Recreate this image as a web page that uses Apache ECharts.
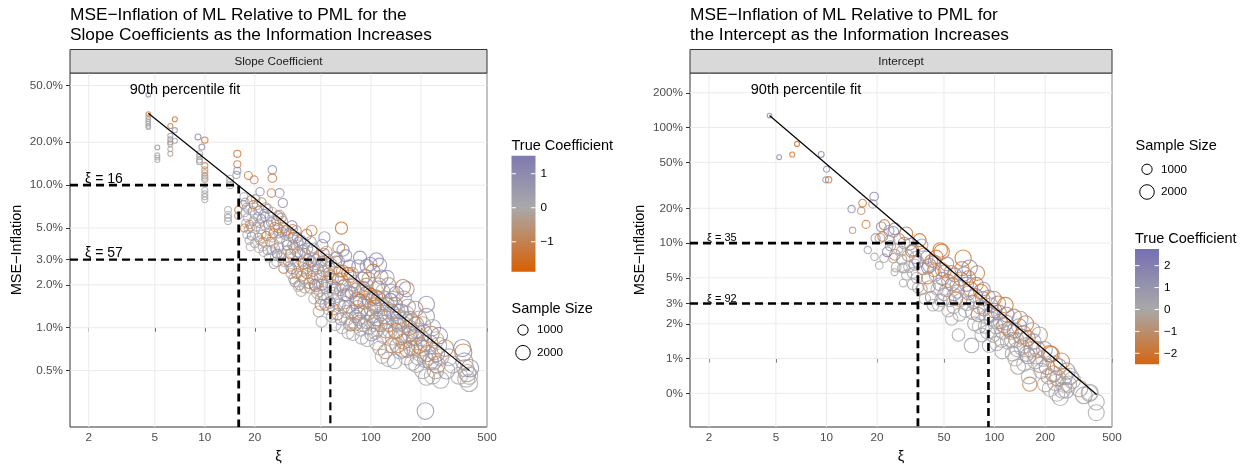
<!DOCTYPE html>
<html><head><meta charset="utf-8">
<script src="https://cdn.jsdelivr.net/npm/echarts@6/dist/echarts.min.js"></script>
<style>html,body{margin:0;padding:0;background:#fff}#c{width:1244px;height:469px}</style>
</head><body><div id="c"></div>
<script>
// ---------- data ----------
const xTicks = [2, 5, 10, 20, 50, 100, 200, 500];
const slopeYTicks = [50, 20, 10, 5, 3, 2, 1, 0.5];
const slopeYLabels = ['50.0%', '20.0%', '10.0%', '5.0%', '3.0%', '2.0%', '1.0%', '0.5%'];
const interYTicks = [200, 100, 50, 20, 10, 5, 3, 2, 1, 0.5];
const interYLabels = ['200%', '100%', '50%', '20%', '10%', '5%', '3%', '2%', '1%', '0%'];
const slopeFit = [[4.57, 31.9], [392.6, 0.5]];
const interFit = [[4.58, 127], [405, 0.489]];
const slopeThresholds = [[16, 10], [57, 3]];
const interThresholds = [[35, 10], [92, 3]];
const slopeColorTicks = [1, 0, -1];
const interColorTicks = [2, 1, 0, -1, -2];
const sizeLegend = [1000, 2000];
// [xi, MSE-inflation %, sample size, true coefficient]
const slopePts = [
[4.57,43,200,1.0],[4.57,31.5,200,-1.2],[4.57,30,200,-0.3],[4.57,29,200,0.1],[4.57,28,200,0.0],[4.57,27,200,0.2],[4.57,26,200,-0.1],[4.57,25.5,200,0.0],
[5.18,18.4,220,0.9],[5.18,16.2,220,0.1],[5.18,15.6,220,0.0],[5.18,15.0,220,-0.1],
[6.2,26,240,-1.0],[6.6,29,240,-1.5],[6.6,24.3,240,0.8],[6.2,22.2,240,0.6],[6.2,21,240,0.7],[6.2,19.4,240,0.2],[6.2,17.9,240,0.0],[6.2,16.6,240,-0.2],[6.6,20.5,240,0.3],[6.2,20,240,-0.5],
[9.1,21.8,330,1.2],[10.0,20.7,380,-1.5],[9.6,18.5,330,1.0],[9.3,16.6,330,0.1],[9.3,15.8,330,0.0],[9.3,15.0,330,-0.1],[9.3,14.6,330,0.2],
[10,13.7,350,-1.0],[10,12.8,350,-0.6],[10,12.2,350,-0.3],[10,11.6,350,-0.9],[10,10.9,350,-0.2],[10,11.2,350,0.0],[10,9.2,350,0.1],[10,8.7,350,0.0],[10,8.3,350,0.2],[10,7.9,350,-0.1],
[15.7,16.6,480,-1.4],[15.7,14.0,480,-1.2],[15.7,12.6,480,0.9],[15.5,11.8,480,0.5],[14.2,11.1,450,0.1],[14.2,10.5,450,0.2],[14.2,10.0,450,0.0],
[13.8,6.7,450,0.2],[13.8,6.2,450,0.0],[13.8,5.9,450,0.4],[13.8,5.6,450,0.1],[15.9,6.7,500,-1.2],[15.9,6.1,500,-0.5],
[18.3,11.7,600,-1.3],[19.8,10.9,600,-1.0],[21.5,9.0,650,1.1],[25.5,12.8,700,1.0],[25.5,11.2,700,-1.1],[25.2,8.8,700,-1.0],[28.2,8.8,750,1.0],[29.5,7.5,800,1.1],[28.2,6.2,750,-1.0],[33.8,4.9,850,-1.2],[36.5,4.0,850,0.9],
[17.2,8.3,600,0.3],[17.5,7.6,600,0.8],[17.8,7.0,620,-0.4],[17.4,6.4,600,0.0],[18.0,5.9,620,0.6],[17.6,5.4,600,0.1],[18.3,4.9,640,-0.2],[17.9,4.5,620,0.0],[18.5,4.1,650,0.2],[18.8,3.7,650,-0.1],[19.0,7.9,650,-0.8],[19.3,6.6,660,1.0],[19.5,5.6,660,0.4],[18.9,5.1,650,-0.6],
[20.2,8.0,700,0.5],[20.5,7.2,700,-0.3],[21.0,6.6,700,0.9],[20.8,6.0,700,0.0],[21.3,5.4,720,-0.5],[21.7,4.9,720,0.2],[22.0,4.5,720,0.0],[21.5,4.1,720,0.3],[22.3,3.7,740,-0.2],[22.6,3.4,740,0.1],[20.0,3.9,700,0.0],[22.8,6.3,740,1.2],[23.0,5.2,740,-1.1],[23.3,7.0,760,0.6],
[24.0,6.8,760,-0.7],[24.5,6.0,780,0.3],[25.0,5.5,780,0.8],[24.7,4.8,780,0.0],[25.5,4.3,800,-0.3],[26.0,3.9,800,0.1],[25.2,3.5,800,0.0],[26.5,3.2,820,0.2],[27.0,2.9,820,-0.1],[26.3,5.1,800,-1.2],[27.5,6.1,840,1.1],[27.8,4.6,840,0.5],[28.0,3.7,840,-0.6],[24.3,3.1,780,0.0],
[29.5,5.6,860,0.4],[30.0,5.0,860,-0.9],[30.5,4.5,880,0.2],[31.0,4.0,880,0.0],[31.5,3.5,900,0.6],[32.0,3.1,900,-0.2],[32.5,2.7,920,0.1],[33.0,2.4,920,0.0],[30.2,2.9,880,0.3],[33.5,5.2,940,1.2],[34.0,4.3,940,-1.3],[33.8,3.8,940,0.7],[29.0,3.3,860,0.0],[34.3,2.2,950,-0.4],
[35.5,4.8,960,-0.5],[36.0,4.3,960,1.0],[37.0,3.8,980,0.0],[37.5,3.3,980,-1.1],[38.5,2.9,1000,0.2],[39.0,2.5,1000,0.0],[39.5,2.2,1020,0.4],[40.0,1.9,1020,-0.2],[36.5,1.95,980,0.1],[38.0,1.8,1000,0.0],[41.0,4.5,1040,-1.4],[41.5,3.6,1040,0.8],[42.0,3.0,1060,-0.7],[40.5,2.6,1040,0.3],[42.5,2.05,1060,1.0],
[43.5,4.0,1080,0.6],[44.0,3.5,1080,-0.8],[45.0,3.1,1100,0.1],[46.0,2.7,1100,0.0],[47.0,2.35,1120,-0.3],[48.0,2.05,1140,0.2],[49.0,1.8,1140,0.0],[50.0,1.6,1160,0.5],[45.5,1.6,1100,0.0],[48.5,1.3,1140,-0.2],[51.0,3.8,1180,1.2],[52.0,3.3,1180,-1.3],[50.5,2.9,1160,0.9],[51.5,2.5,1180,-0.6],[46.5,1.95,1120,1.1],[44.5,2.2,1100,-1.0],[50.5,1.1,1160,0.0],[44.0,4.8,1080,-1.1],[52.5,4.3,1180,1.0],
[54.0,3.4,1200,-0.4],[55.0,3.0,1220,0.7],[56.0,2.65,1220,0.0],[57.0,2.3,1240,-1.0],[58.0,2.0,1260,0.3],[59.0,1.75,1260,0.0],[60.0,1.55,1280,-0.2],[55.5,1.35,1220,0.1],[58.5,1.2,1260,0.0],[61.0,1.05,1300,0.2],[62.0,3.1,1300,1.1],[60.5,2.6,1280,-1.2],[53.5,1.9,1200,0.6],[66.5,5.0,1400,-1.5],
[64.0,2.9,1320,0.4],[65.0,2.5,1340,-0.6],[66.5,2.2,1360,0.0],[68.0,1.95,1380,0.9],[69.0,1.7,1400,-0.3],[70.0,1.5,1400,0.0],[71.0,1.3,1420,0.2],[72.0,1.15,1440,-0.1],[67.0,1.0,1360,0.0],[73.0,0.92,1440,0.1],[74.0,2.7,1460,1.2],[75.0,2.3,1460,-1.4],[73.5,1.8,1460,0.7],[70.5,3.2,1400,1.0],[63.0,1.25,1320,-0.9],[68.0,3.5,1380,1.1],[64.0,3.65,1320,-1.0],
[77.0,2.4,1480,-0.7],[79.0,2.1,1500,0.3],[80.0,1.85,1520,0.0],[82.0,1.6,1540,-1.1],[83.0,1.4,1560,0.5],[85.0,1.25,1580,0.0],[86.0,1.1,1580,-0.2],[87.0,0.97,1600,0.1],[78.0,0.9,1500,0.0],[88.0,0.85,1620,0.2],[89.0,2.2,1640,1.1],[90.0,1.9,1640,-1.3],[84.0,2.7,1580,1.0],[81.0,1.2,1520,0.8],[76.0,1.05,1480,-0.5],[86.0,3.1,1600,1.2],
[92.0,2.3,1660,0.9],[94.0,2.0,1680,-0.8],[96.0,1.75,1700,0.1],[98.0,1.55,1700,0.0],[100.0,1.35,1720,-0.4],[102.0,1.2,1740,0.6],[104.0,1.05,1760,0.0],[106.0,0.93,1780,-0.2],[95.0,0.82,1700,0.1],[108.0,0.78,1800,0.0],[110.0,1.9,1800,1.2],[107.0,1.65,1780,-1.3],[94.6,2.7,1740,1.0],[99.0,2.8,1720,0.8],[105.0,1.45,1760,-1.0],[93.0,1.1,1680,0.3],
[108,3.0,1800,1.2],[113,2.75,1820,0.9],[103,2.5,1760,-1.3],[115,2.27,1850,1.0],[125,2.25,1900,0.8],[112,2.0,1820,-0.4],[118,1.8,1860,0.2],[121,1.6,1880,0.0],[106,1.4,1780,-0.9],[115,1.25,1850,0.0],[124,1.1,1900,0.4],[110,0.98,1800,-0.1],[119,0.87,1860,0.0],[113,0.72,1840,0.2],[117,0.63,1860,0.0],[122,0.68,1880,-0.6],[108,1.15,1800,1.0],[125,1.45,1900,-1.1],
[128,2.0,1920,-0.5],[132,1.8,1950,0.3],[136,1.6,1980,0.0],[140,1.45,2000,-1.2],[142,1.73,2000,1.1],[145,1.3,2040,0.5],[138,1.15,1990,0.0],[148,1.05,2060,-0.3],[130,0.95,1930,0.1],[135,0.85,1970,0.0],[144,0.75,2030,-0.8],[150,0.68,2080,0.2],[127,0.6,1920,0.0],[139,0.58,2000,0.3],[133,1.3,1960,-1.0],[147,1.2,2050,1.0],
[156,1.93,2100,-1.3],[167,1.4,2180,0.4],[164,1.86,2160,1.2],[164,1.25,2160,0.0],[158,1.6,2120,0.2],[172,1.15,2200,-0.7],[160,1.05,2140,0.0],[176,0.95,2240,0.3],[153,0.9,2100,-0.2],[168,0.82,2190,0.0],[175,0.72,2230,-1.1],[163,0.62,2160,0.0],[178,0.57,2260,0.5],[155,0.7,2100,0.8],[170,1.0,2200,-1.0],
[216,1.46,2450,1.1],[216,1.2,2450,0.9],[185,1.35,2300,-0.8],[195,1.15,2350,0.0],[205,1.05,2400,-0.4],[190,0.95,2320,0.2],[200,0.85,2380,0.0],[210,0.78,2420,-1.2],[182,0.72,2280,0.1],[198,0.66,2370,0.0],[213,0.6,2440,0.6],[188,0.55,2300,-0.3],[205,0.5,2400,0.0],[216,0.45,2450,0.2],[213,0.26,2600,0.8],[195,0.75,2350,-1.0],
[235,1.0,2500,0.5],[230,0.9,2480,-0.9],[245,0.82,2550,0.0],[255,0.75,2580,0.3],[240,0.68,2520,-0.2],[262,0.62,2600,0.0],[228,0.58,2480,1.0],[250,0.55,2560,-1.1],[235,0.46,2500,0.0],[263,0.43,2600,0.2],[245,0.5,2540,-0.4],[258,0.88,2580,1.1],
[280,0.72,2600,-1.2],[295,0.62,2650,0.3],[310,0.55,2680,0.0],[285,0.5,2620,0.5],
[340,0.46,2700,0.0],[355,0.72,2750,1.1],[360,0.67,2750,-1.3],[365,0.58,2760,0.4],[370,0.52,2780,0.0],[380,0.48,2800,-0.6],[390,0.46,2800,0.2],[390,0.41,2800,0.0],[395,0.52,2820,0.9],[375,0.44,2790,0.1],
[17.0,7.3,580,0.9],[17.3,5.0,600,-1.1],[18.1,6.8,620,0.2],[18.6,5.3,640,-0.7],[19.1,4.4,650,1.2],[19.6,7.3,660,-1.4],[20.4,5.1,690,0.6],[20.9,4.3,700,-0.4],[21.2,3.6,710,0.0],[21.9,5.8,720,1.0],[22.4,4.0,730,-0.9],[23.0,6.0,740,0.4],[23.5,4.4,750,-1.6],[23.8,3.5,760,0.8],[19.9,6.2,680,0.1],[22.0,7.6,720,-0.9],
[24.2,5.3,770,1.1],[24.8,4.0,780,-0.8],[25.4,6.5,790,0.3],[25.9,4.6,800,-1.3],[26.4,3.6,810,0.7],[26.9,5.6,820,-0.5],[27.3,3.3,830,1.3],[27.7,5.0,840,-1.0],[28.3,4.2,850,0.2],[28.7,3.1,860,-0.6],[29.2,4.7,860,0.9],[29.8,2.6,870,-1.2],[28.9,5.9,860,-0.8],[26.1,2.8,800,0.5],
[30.8,4.8,880,-1.5],[31.3,3.8,890,1.0],[31.8,2.9,900,-0.3],[32.3,4.6,910,0.6],[32.8,3.3,920,-1.1],[33.3,2.6,930,1.2],[34.6,3.6,950,-0.7],[35.2,2.9,960,0.3],[35.8,2.4,970,-1.4],[36.3,3.4,975,0.8],[36.8,2.7,980,-0.2],[37.8,4.1,990,1.3],[38.2,2.3,1000,-0.9],[38.8,3.5,1000,0.5],[39.3,2.8,1010,-1.6],[39.8,3.9,1020,0.0],[34.9,2.1,950,0.9],[37.2,2.0,990,-0.5],
[40.2,3.3,1030,1.1],[41.2,2.4,1040,-1.2],[42.2,2.7,1060,0.4],[43.0,1.9,1070,-0.6],[43.8,2.9,1080,1.4],[44.8,2.5,1090,-1.0],[45.3,3.6,1100,0.2],[45.8,2.0,1100,-1.5],[46.8,3.0,1110,0.8],[47.4,1.75,1120,-0.3],[47.8,2.6,1130,1.0],[48.8,3.2,1140,-0.8],[49.4,2.3,1150,0.6],[49.8,1.45,1150,-1.3],[50.8,2.0,1160,1.2],[51.8,1.7,1180,-0.4],[52.8,2.7,1190,0.1],[53.3,1.45,1200,0.9],[54.5,2.1,1210,-1.1],[54.8,1.65,1210,0.5],
[55.8,2.4,1220,-0.9],[56.5,1.5,1230,1.1],[57.5,2.8,1240,-0.2],[58.8,2.2,1260,0.7],[59.5,1.35,1270,-1.4],[60.8,1.9,1280,1.3],[61.5,2.9,1290,-0.6],[62.5,1.65,1300,0.2],[63.5,2.2,1320,-1.0],[64.5,1.45,1330,0.8],[65.5,1.85,1340,-0.4],[66.0,1.15,1350,1.0],[67.5,2.5,1370,-1.2],[68.5,1.4,1380,0.4],[69.5,2.0,1390,-0.7],[71.5,1.7,1420,1.2],[72.5,2.4,1430,-1.5],[73.5,1.4,1440,0.6],[74.5,1.05,1450,-0.3],
[76.5,1.75,1470,0.9],[77.5,1.3,1480,-1.1],[78.5,2.0,1500,0.3],[80.5,1.05,1520,-0.8],[81.5,1.5,1530,1.3],[83.5,1.9,1560,-0.5],[84.5,1.15,1570,0.7],[85.5,1.55,1580,-1.3],[87.5,1.3,1600,1.0],[88.5,1.8,1620,-0.2],[90.5,1.05,1640,0.5],[91.5,1.5,1650,-1.0],[93.5,1.75,1680,1.1],[95.5,1.25,1700,-0.6],[97.5,1.0,1700,0.2],[99.5,1.7,1720,-1.4],[101,0.9,1730,0.9],[97,2.2,1710,-0.7],
[103,1.6,1750,1.2],[105,1.1,1770,-0.9],[109,1.35,1800,0.4],[111,1.6,1810,-1.2],[114,1.05,1840,0.8],[116,1.45,1850,-0.3],[120,1.2,1870,1.0],[123,0.95,1890,-1.1],[126,1.35,1910,0.6],[129,1.05,1930,-0.5],[131,1.55,1940,1.3],[134,0.75,1960,-0.8],[137,1.25,1980,0.3],[141,0.95,2000,-1.3],[146,1.1,2040,0.9],[149,0.85,2070,-0.2],
[152,1.3,2090,1.1],[157,0.8,2110,-0.9],[161,1.15,2150,0.5],[166,0.7,2170,-1.2],[171,0.9,2200,0.8],[177,1.1,2240,-0.4],[183,0.85,2280,1.2],[187,1.05,2300,-1.0],[193,0.62,2340,0.3],[203,0.72,2390,-0.7],[208,0.92,2410,1.0],[220,0.66,2470,-1.3],[226,0.78,2490,0.6],[238,0.58,2510,-0.5],[248,0.66,2550,0.9]
];
const interPts = [
[4.58,127,200,1.8],[5.23,55.4,220,1.6],[6.25,58.4,240,-2.0],[6.68,72.2,240,-2.2],[9.3,58.5,330,1.7],[10.0,43.6,350,1.5],[9.9,35.3,350,1.3],[10.3,35.3,380,-2.0],
[14.1,19.7,500,1.6],[16.1,19.0,520,-1.2],[16.4,22.2,560,-2.0],[19.2,25.3,700,1.8],[18.9,21.8,650,1.2],[17.2,14.5,600,-2.0],[14.3,12.9,380,-0.8],[17.6,8.7,500,0.8],[19.3,7.6,520,0.2],[20.6,6.4,550,0.0],[25.4,5.6,450,-0.6],[28.6,4.5,550,0.1],
[22.1,14.4,1000,-2.0],[21.2,13.8,900,1.5],[25.0,12.5,1100,1.8],[23.5,12.8,1000,1.2],[20.8,11.0,900,-0.5],[19.6,11.0,800,1.4],[21.6,11.4,900,-1.8],[25.5,13.3,1300,1.6],[29.8,12.1,1600,-2.0],[29.0,10.0,1300,1.3],[25.5,7.9,1100,-1.6],[27.9,8.5,900,0.2],[25.0,7.4,800,-0.8],[22.0,7.4,700,0.3],[28.3,6.1,900,0.1],[24.0,9.5,1000,0.9],[27.0,10.8,1200,-1.4],[23.0,8.4,900,1.9],
[35.8,10.6,1600,-2.3],[32.6,8.7,1300,1.5],[31.0,6.2,1100,0.0],[29.0,6.1,1000,-0.3],[35.0,6.9,1300,1.6],[41.0,6.4,1800,1.9],[44.0,6.9,1500,1.3],[40.0,5.0,1400,-1.9],[30.0,5.3,1000,0.1],[32.6,4.4,1100,0.2],[36.8,4.0,1200,-0.7],[42.0,3.4,1300,1.2],[36.9,9.6,1400,0.8],[32.0,8.5,1300,-1.9],[42.0,7.0,1500,-1.7],[40.0,6.1,1400,1.6],[41.0,4.2,1300,-0.9],[32.6,5.5,1100,0.3],[35.0,4.1,1100,0.4],[38.0,8.0,1500,-1.2],[34.0,7.5,1400,0.6],[44.5,5.3,1500,0.5],[38.5,3.3,1200,0.0],[43.0,2.9,1300,0.2],
[48.5,8.4,2200,-2.1],[47.5,8.7,2000,-1.9],[50.5,5.7,1600,-1.8],[48.6,5.9,1700,-2.0],[53.0,4.7,1600,-1.6],[56.0,4.4,1700,-2.0],[46.5,2.9,1400,0.1],[55.6,2.2,1500,0.0],[61.0,1.6,1500,0.3],[50.0,3.6,1500,0.9],[52.0,6.6,1800,1.4],[58.0,5.3,1800,1.7],[60.0,3.8,1700,0.5],[63.0,4.9,1800,-1.2],[47.0,4.4,1500,1.2],[57.0,2.8,1600,-0.4],[62.0,2.4,1600,0.0],[54.0,3.2,1600,0.8],[64.0,6.0,1900,-1.5],[59.0,3.3,1700,-2.0],
[65,7.4,2500,-2.2],[71,6.1,2300,1.8],[70,5.0,1900,-2.1],[78,4.4,1800,-1.8],[86,4.0,1700,1.5],[73,1.3,2000,0.6],[88,1.9,1800,0.2],[70,3.7,1800,0.9],[75,3.1,1900,-0.5],[82,2.8,1900,1.3],[67,2.6,1700,0.0],[80,2.4,1900,-1.4],[85,3.3,1900,-1.7],[76,2.0,1800,0.3],[84,1.6,1800,0.1],[68,4.4,1900,1.6],[90,2.3,2000,0.4],[79,5.5,2000,-1.6],
[92,3.4,1800,1.6],[116,2.9,2300,-2.2],[96,2.2,1900,0.5],[111,1.15,2000,0.2],[100,2.6,2000,-1.9],[105,3.0,2100,-2.0],[95,2.9,1900,1.4],[108,2.1,2000,1.1],[112,1.7,2000,-0.6],[98,1.6,1900,0.3],[103,1.35,1900,0.0],[118,2.4,2100,1.7],[114,1.95,2100,-1.5],[102,1.9,2000,0.7],[120,1.4,2100,0.1],[93,1.3,1800,0.4],
[125,1.7,2100,0.2],[153,2.0,2400,-2.3],[150,0.9,2100,0.0],[130,2.3,2200,-1.6],[140,1.9,2200,1.5],[135,1.45,2100,-0.8],[145,1.25,2200,0.6],[128,1.1,2000,0.3],[157,1.5,2300,-1.7],[142,2.2,2300,0.9],[148,1.65,2300,-1.3],[133,1.0,2100,0.0],[138,0.85,2100,-0.4],[155,1.1,2200,1.1],
[162,0.6,1900,-1.6],[160,0.7,2100,0.2],[190,0.78,2200,0.1],[200,0.6,2200,-0.3],[213,1.1,2500,-2.3],[218,1.09,2300,-2.0],[170,1.4,2300,1.2],[180,1.2,2300,-1.5],[175,0.95,2200,0.6],[195,1.0,2300,0.0],[205,0.85,2300,1.3],[185,1.6,2400,-1.0],[210,0.7,2300,-0.6],[168,1.75,2300,0.8],[224,0.74,2400,-2.0],[215,0.55,2400,0.2],
[253,0.53,2300,0.5],[246,0.46,2400,0.1],[230,0.62,2400,0.2],[240,0.85,2500,-1.4],[260,0.7,2500,0.9],[275,0.6,2500,-0.5],[267,0.53,2300,1.0],[235,0.5,2400,-0.2],[290,0.65,2600,0.3],[250,0.95,2500,-1.8],[270,0.78,2500,1.4],
[367,0.5,2600,0.1],[370,0.51,2500,0.0],[403,0.42,2400,0.2],[403,0.34,2400,0.1],[320,0.55,2600,-0.6],[340,0.48,2600,0.7],
[23.8,10.5,1000,0.2],[26.5,9.0,1100,-0.3],[28.0,7.2,1000,0.5],[30.5,7.8,1200,-0.6],[33.5,6.5,1200,0.9],[26.0,6.2,900,0.0],[31.5,9.8,1300,1.1],[34.5,5.0,1200,-0.2],
[37.5,6.0,1400,-1.0],[39.5,7.5,1500,1.2],[43.5,5.8,1500,-1.3],[45.5,4.0,1400,0.3],[49.0,4.9,1600,1.5],[51.5,3.9,1600,-0.7],[55.0,5.6,1700,-1.6],[57.5,3.6,1600,1.0],[53.0,2.6,1500,0.2],[48.0,3.2,1500,-0.3],[59.5,4.3,1700,0.6],[45.0,7.6,1700,-2.0],
[62.5,3.2,1700,-0.5],[66.0,5.4,1900,1.4],[69.0,3.0,1800,0.2],[72.0,4.0,1900,-1.9],[74.0,2.5,1800,0.8],[77.0,3.5,1900,1.5],[81.0,1.9,1800,0.0],[87.0,2.7,1900,-1.0],[83.0,3.8,2000,-2.0],[91.0,1.7,1900,0.5],[95.0,2.4,2000,1.2],[99.0,3.3,2100,-1.4],
[106,2.5,2100,1.5],[110,1.45,2000,-0.3],[117,2.05,2100,1.0],[122,1.8,2100,-1.7],[127,1.45,2100,0.6],[132,1.75,2200,1.3],[137,1.2,2100,-0.2],[144,1.55,2200,-1.5],[151,1.3,2200,0.4],[158,1.05,2200,1.0],[166,1.2,2300,-1.2],[176,1.05,2300,0.3],[188,0.88,2300,-0.8],[198,1.2,2400,1.1],
[228,0.9,2400,0.6],[238,0.68,2400,-0.9],[258,0.6,2400,0.4],[282,0.7,2500,-0.3]
];

// ---------- helpers ----------
const FONT = '"Liberation Sans", Arial, Helvetica, sans-serif';
const L10 = Math.log10;
const LOW = [217, 95, 2], MID = [169, 169, 169], HIGH = [117, 112, 179];
function grad2(v, lim, a) {
  let t = Math.max(-1, Math.min(1, v / lim));
  const e = t < 0 ? LOW : HIGH; t = Math.abs(t);
  const c = MID.map((m, i) => Math.round(m + (e[i] - m) * t));
  return a == null ? 'rgb(' + c.join(',') + ')' : 'rgba(' + c.join(',') + ',' + a + ')';
}
const sizeOf = n => 10.3 * Math.sqrt(n / 1000);

const panels = [
  { grid: { left: 70, top: 73, width: 417, height: 358 }, xMin: 1.543, xMax: 500, yMin: 0.2011, yMax: 61.2,
    yTicks: slopeYTicks, yLabels: slopeYLabels, pts: slopePts, fit: slopeFit, thr: slopeThresholds, thrW: [2.8, 2.2],
    lim: 1.88, nameGap: 46 },
  { grid: { left: 690, top: 73, width: 422, height: 358 }, xMin: 1.541, xMax: 500, yMin: 0.2556, yMax: 296.6,
    yTicks: interYTicks, yLabels: interYLabels, pts: interPts, fit: interFit, thr: interThresholds, thrW: [2.8, 2.6],
    lim: 2.76, nameGap: 43 }
];

const grids = [], xAxes = [], yAxes = [], series = [];
const gridLineStyle = { color: '#ebebeb', width: 1, type: 'solid' };
panels.forEach((p, i) => {
  grids.push(Object.assign({ show: true, borderColor: '#333', borderWidth: 1, backgroundColor: '#fff', containLabel: false }, p.grid));
  const xv = xTicks.map(L10), yv = p.yTicks.map(L10);
  const x0 = L10(p.xMin), x1 = L10(p.xMax), y0 = L10(p.yMin), y1 = L10(p.yMax);
  xAxes.push({ type: 'value', gridIndex: i, min: x0, max: x1,
    name: 'ξ', nameLocation: 'middle', nameGap: 22, nameTextStyle: { fontFamily: FONT, fontSize: 14.5, color: '#000' },
    axisLine: { show: false }, splitLine: { show: false },
    axisTick: { show: true, customValues: xv, length: 4, lineStyle: { color: '#333' } },
    axisLabel: { customValues: xv, margin: 5, fontFamily: FONT, fontSize: 11.7, color: '#4d4d4d',
      formatter: v => String(Math.round(Math.pow(10, v))) } });
  yAxes.push({ type: 'value', gridIndex: i, min: y0, max: y1,
    name: 'MSE−Inflation', nameLocation: 'middle', nameRotate: 90, nameGap: p.nameGap,
    nameTextStyle: { fontFamily: FONT, fontSize: 14.5, color: '#000' },
    axisLine: { show: false }, splitLine: { show: false },
    axisTick: { show: true, customValues: yv, length: 4, lineStyle: { color: '#333' } },
    axisLabel: { customValues: yv, margin: 7, fontFamily: FONT, fontSize: 11.7, color: '#4d4d4d',
      formatter: v => { let k = 0, b = 1e9; yv.forEach((t, j) => { const d = Math.abs(t - v); if (d < b) { b = d; k = j; } }); return p.yLabels[k]; } } });
  xv.forEach(v => series.push({ type: 'line', xAxisIndex: i, yAxisIndex: i, z: 1, silent: true, animation: false, symbol: 'none',
    data: [[v, y0], [v, y1]], lineStyle: gridLineStyle }));
  yv.forEach(v => series.push({ type: 'line', xAxisIndex: i, yAxisIndex: i, z: 1, silent: true, animation: false, symbol: 'none',
    data: [[x0, v], [x1, v]], lineStyle: gridLineStyle }));
  series.push({ type: 'scatter', xAxisIndex: i, yAxisIndex: i, z: 3, animation: false, silent: true, large: false,
    data: p.pts.map(q => ({ value: [L10(q[0]), L10(q[1])], symbolSize: sizeOf(q[2]),
      itemStyle: { color: 'rgba(0,0,0,0)', borderColor: grad2(q[3], p.lim), borderWidth: 1.1 } })) });
  series.push({ type: 'line', xAxisIndex: i, yAxisIndex: i, z: 4, animation: false, silent: true, symbol: 'none',
    data: p.fit.map(q => [L10(q[0]), L10(q[1])]), lineStyle: { color: '#000', width: 1.2 } });
  p.thr.forEach((t, k) => {
    series.push({ type: 'line', xAxisIndex: i, yAxisIndex: i, z: 5, animation: false, silent: true, symbol: 'none',
      data: [[x0, L10(t[1])], [L10(t[0]), L10(t[1])], [L10(t[0]), y0]],
      lineStyle: { color: '#000', width: p.thrW[k], type: [8, 5] } });
  });
});

// ---------- graphic (strips, annotations, legends) ----------
const G = [];
function txt(x, y, s, size, opt) {
  G.push({ type: 'text', x: x, y: y, z: 50, silent: true,
    style: Object.assign({ text: s, fontFamily: FONT, fontSize: size, fill: '#000', align: 'left', verticalAlign: 'middle' }, opt || {}) });
}
[[70, 417, 'Slope Coefficient'], [690, 422, 'Intercept']].forEach(s => {
  G.push({ type: 'rect', z: 40, silent: true, shape: { x: s[0], y: 49.5, width: s[1], height: 23.5 },
    style: { fill: '#d9d9d9', stroke: '#333', lineWidth: 1 } });
  txt(s[0] + s[1] / 2, 61.5, s[2], 11.7, { align: 'center', fill: '#1a1a1a' });
});
txt(185, 90, '90th percentile fit', 14.5, { align: 'center' });
txt(806, 90, '90th percentile fit', 14.5, { align: 'center' });
txt(85, 179, 'ξ = ' + slopeThresholds[0][0], 14);
txt(85, 253, 'ξ = ' + slopeThresholds[1][0], 14);
txt(707, 238, 'ξ = ' + interThresholds[0][0], 11);
txt(707, 299, 'ξ = ' + interThresholds[1][0], 11);

function colorbar(x, y, w, h, top, bot, lim, ticks, titleY, title) {
  txt(x, titleY, title, 14.5);
  const stops = [];
  for (let k = 0; k <= 20; k++) { const v = top - (top - bot) * k / 20; stops.push({ offset: k / 20, color: grad2(v, lim) }); }
  G.push({ type: 'rect', z: 40, silent: true, shape: { x: x, y: y, width: w, height: h },
    style: { fill: { type: 'linear', x: 0, y: 0, x2: 0, y2: 1, colorStops: stops } } });
  ticks.forEach(v => {
    const yy = y + (top - v) / (top - bot) * h;
    G.push({ type: 'line', z: 41, silent: true, shape: { x1: x, y1: yy, x2: x + 4.5, y2: yy }, style: { stroke: '#fff', lineWidth: 1 } });
    G.push({ type: 'line', z: 41, silent: true, shape: { x1: x + w - 4.5, y1: yy, x2: x + w, y2: yy }, style: { stroke: '#fff', lineWidth: 1 } });
    txt(x + w + 5, yy, v < 0 ? '−' + Math.abs(v) : String(v), 11.7);
  });
}
function sizeLeg(x, titleY, rowY) {
  txt(x, titleY, 'Sample Size', 14.5);
  sizeLegend.forEach((n, k) => {
    const r = sizeOf(n) / 2;
    G.push({ type: 'circle', z: 40, silent: true, shape: { cx: x + 11.5, cy: rowY[k], r: r }, style: { fill: 'none', stroke: '#000', lineWidth: 1 } });
    txt(x + 25.5, rowY[k], String(n), 11.7);
  });
}
colorbar(511.5, 155.7, 24, 116, 1.53, -1.88, 1.88, slopeColorTicks, 146, 'True Coefficient');
sizeLeg(511.5, 308.5, [330, 352.7]);
sizeLeg(1135.5, 146, [169.3, 192]);
colorbar(1135, 249, 24, 115.3, 2.76, -2.5, 2.76, interColorTicks, 238.5, 'True Coefficient');

const chart = echarts.init(document.getElementById('c'), null, { renderer: 'canvas' });
chart.setOption({
  animation: false,
  backgroundColor: '#fff',
  title: [
    { text: 'MSE−Inflation of ML Relative to PML for the\nSlope Coefficients as the Information Increases', left: 70, top: 5, padding: 0,
      textStyle: { fontFamily: FONT, fontSize: 17.3, fontWeight: 'normal', color: '#000', lineHeight: 20 } },
    { text: 'MSE−Inflation of ML Relative to PML for\nthe Intercept as the Information Increases', left: 690, top: 5, padding: 0,
      textStyle: { fontFamily: FONT, fontSize: 17.3, fontWeight: 'normal', color: '#000', lineHeight: 20 } }
  ],
  grid: grids, xAxis: xAxes, yAxis: yAxes, series: series, graphic: G
});
</script></body></html>
